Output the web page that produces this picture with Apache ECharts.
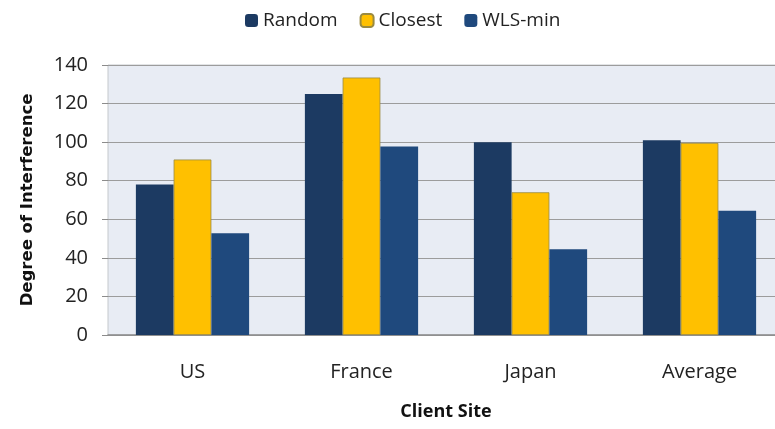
<!DOCTYPE html>
<html>
<head>
<meta charset="utf-8">
<script src="https://cdn.jsdelivr.net/npm/echarts@6/dist/echarts.min.js"></script>
<style>
  html, body { margin: 0; padding: 0; background: #fff; overflow: hidden; }
  #main { width: 784px; height: 429px; }
</style>
</head>
<body>
<div id="main"></div>
<script>
// 数据
const sites = ['US', 'France', 'Japan', 'Average']
const random = [78, 125, 100, 101]
const closest = [91, 133.5, 74, 99.6]
const wlsMin = [52.7, 97.8, 44.4, 64.4]
const yTicks = [0, 20, 40, 60, 80, 100, 120, 140]

const font = "'Open Sans', sans-serif"

// 图表比原图宽一点，右边被裁掉
const myChart = echarts.init(document.getElementById('main'))
myChart.setOption({
  animation: false,
  legend: {
    top: 6,
    left: 240,
    itemWidth: 13,
    itemHeight: 13,
    itemGap: 22,
    textStyle: { fontFamily: font, fontSize: 19, color: '#222' },
    data: ['Random', 'Closest', 'WLS-min']
  },
  grid: {
    left: 108,
    right: 0,
    top: 65,
    bottom: 94,
    show: true,
    backgroundColor: '#e8ecf4',
    borderColor: '#c4c8cc',
    borderWidth: 1
  },
  xAxis: {
    type: 'category',
    data: sites,
    name: 'Client Site',
    nameLocation: 'middle',
    nameGap: 68,
    nameTextStyle: { fontFamily: font, fontSize: 18, fontWeight: 'bold', color: '#111' },
    axisLine: { lineStyle: { color: '#8c8c8c', width: 1.5 } },
    axisTick: { show: false },
    axisLabel: { fontFamily: font, fontSize: 20, color: '#222', margin: 27 }
  },
  yAxis: {
    type: 'value',
    min: 0,
    max: yTicks[yTicks.length - 1],
    interval: 20,
    name: 'Degree of Interference',
    nameLocation: 'middle',
    nameGap: 72,
    nameTextStyle: { fontFamily: 'DejaVu Sans', fontSize: 16.5, fontWeight: 'bold', color: '#111' },
    axisLine: { show: false },
    axisTick: { show: true, length: 6, lineStyle: { color: '#8c8c8c' } },
    axisLabel: { fontFamily: font, fontSize: 20, color: '#222', margin: 20 },
    splitLine: { lineStyle: { color: '#9c9c9c', width: 1.2 } }
  },
  series: [{
    name: 'Random',
    type: 'bar',
    barGap: '0%',
    barCategoryGap: '33%',
    itemStyle: { color: '#1c3a62' },
    data: random
  }, {
    name: 'Closest',
    type: 'bar',
    itemStyle: { color: '#ffc000', borderColor: '#9a8a40', borderWidth: 0.8 },
    data: closest
  }, {
    name: 'WLS-min',
    type: 'bar',
    itemStyle: { color: '#1f497d' },
    data: wlsMin
  }]
})
</script>
</body>
</html>
